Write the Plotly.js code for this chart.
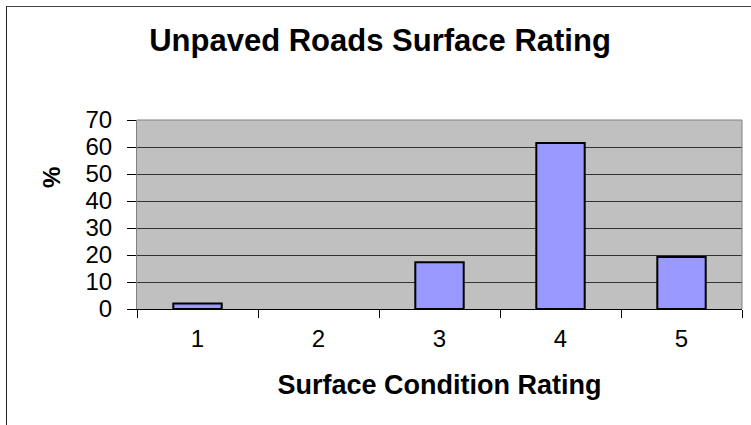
<!DOCTYPE html>
<html>
<head>
<meta charset="utf-8">
<script src="https://cdn.plot.ly/plotly-3.0.1.min.js"></script>
<style>
html,body{margin:0;padding:0;background:#fff;}
#wrap{position:relative;width:751px;height:425px;overflow:hidden;}
#frame{position:absolute;left:6px;top:6px;width:800px;height:500px;border-left:1px solid #222;border-top:1px solid #444;pointer-events:none;}
#chart{position:absolute;left:0;top:0;width:751px;height:425px;}
</style>
</head>
<body>
<div id="wrap">
<div id="chart"></div>
<div id="frame"></div>
</div>
<script>
const categories = ['1', '2', '3', '4', '5'];
const percentValues = [2.0, 0, 17.3, 61.5, 19.3];
const yTickValues = [0, 10, 20, 30, 40, 50, 60, 70];

const FONT = 'Liberation Sans, Arial, sans-serif';

const trace = {
  type: 'bar',
  x: categories,
  y: percentValues,
  width: 0.4,
  marker: {color: '#9999ff', line: {color: '#000000', width: percentValues.map(v => v > 0 ? 2 : 0)}},
  hoverinfo: 'x+y'
};

const layout = {
  width: 751,
  height: 425,
  margin: {l: 137, r: 9, t: 120, b: 116, pad: 0},
  paper_bgcolor: 'rgba(0,0,0,0)',
  plot_bgcolor: '#c0c0c0',
  showlegend: false,
  font: {family: FONT, color: '#000', size: 24},
  title: {
    text: '<b>Unpaved Roads Surface Rating</b>',
    font: {family: FONT, size: 31, color: '#000'},
    x: 0.506, xref: 'container', xanchor: 'center',
    y: 0.905, yref: 'container', yanchor: 'middle'
  },
  xaxis: {
    type: 'category',
    tickson: 'boundaries',
    ticks: 'outside',
    ticklen: 8,
    tickcolor: '#000',
    tickwidth: 1,
    ticklabelstandoff: 8,
    showgrid: false,
    showline: true,
    linecolor: '#000',
    linewidth: 1,
    tickfont: {family: FONT, size: 24, color: '#000'},
    title: {text: '<b>Surface Condition Rating</b>', font: {family: FONT, size: 27, color: '#000'}, standoff: 24},
    zeroline: false
  },
  yaxis: {
    range: [0, 70],
    tickvals: yTickValues,
    ticktext: yTickValues.map(String),
    ticks: 'outside',
    ticklen: 9,
    tickcolor: '#000',
    tickwidth: 1,
    ticklabelstandoff: 10,
    showgrid: true,
    gridcolor: '#333333',
    gridwidth: 1,
    showline: true,
    linecolor: '#808080',
    linewidth: 1,
    zeroline: false,
    tickfont: {family: FONT, size: 24, color: '#000'}
  },
  annotations: [
    {text: '<b>%</b>', xref: 'paper', yref: 'paper', x: -0.142, y: 0.693, xanchor: 'center', yanchor: 'middle',
     textangle: -90, showarrow: false, font: {family: FONT, size: 24, color: '#000'}}
  ],
  shapes: [
    {type: 'line', xref: 'paper', yref: 'paper', x0: 0, x1: 1, y0: 1, y1: 1, line: {color: '#808080', width: 1}},
    {type: 'line', xref: 'paper', yref: 'paper', x0: 1, x1: 1, y0: 0, y1: 1, line: {color: '#808080', width: 1}}
  ]
};

Plotly.newPlot('chart', [trace], layout, {displayModeBar: false, staticPlot: true});
</script>
</body>
</html>
